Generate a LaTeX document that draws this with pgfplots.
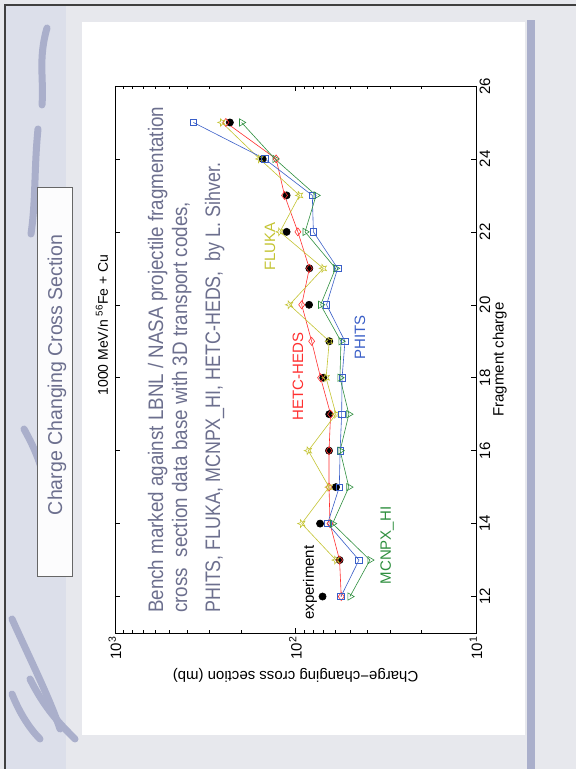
\documentclass[border=0pt]{standalone}
\usepackage{fontspec}
\setmainfont{Liberation Sans}
\usepackage{graphicx}
\usepackage{pgfplots}
\pgfplotsset{compat=1.18}
\definecolor{cred}{HTML}{FF3030}
\definecolor{cblue}{HTML}{3A5FC8}
\definecolor{cgreen}{HTML}{2F8F3F}
\definecolor{cyel}{HTML}{C4C432}
\definecolor{slidetxt}{HTML}{6C6F8E}
\definecolor{bgc}{HTML}{E7E8ED}
\definecolor{strip}{HTML}{DCDFEA}
\definecolor{swoosh}{HTML}{AAAFCB}
\pgfdeclareplotmark{fstar}{%
  \pgfpathmoveto{\pgfpointpolar{180}{\pgfplotmarksize}}%
  \pgfpathlineto{\pgfpointpolar{216}{0.42\pgfplotmarksize}}%
  \pgfpathlineto{\pgfpointpolar{252}{\pgfplotmarksize}}%
  \pgfpathlineto{\pgfpointpolar{288}{0.42\pgfplotmarksize}}%
  \pgfpathlineto{\pgfpointpolar{324}{\pgfplotmarksize}}%
  \pgfpathlineto{\pgfpointpolar{0}{0.42\pgfplotmarksize}}%
  \pgfpathlineto{\pgfpointpolar{36}{\pgfplotmarksize}}%
  \pgfpathlineto{\pgfpointpolar{72}{0.42\pgfplotmarksize}}%
  \pgfpathlineto{\pgfpointpolar{108}{\pgfplotmarksize}}%
  \pgfpathlineto{\pgfpointpolar{144}{0.42\pgfplotmarksize}}%
  \pgfpathclose\pgfusepathqstroke}
\newcommand{\lab}{\fontsize{15}{18}\selectfont}
\begin{document}
\begin{tikzpicture}
\useasboundingbox (0,0) rectangle (576pt,769pt);
% slide background
\fill[bgc] (0,0) rectangle (576pt,769pt);
\fill[strip] (5pt,0) rectangle (66pt,764pt);
\fill[swoosh] (527pt,0) rectangle (535pt,749pt);
\draw[black!75, line width=1.2pt] (5pt,0) -- (5pt,764pt) -- (576pt,764pt);
% swooshes
\begin{scope}[swoosh, line width=7pt, line cap=round]
\draw (47pt,741pt) .. controls (38pt,710pt) and (44pt,690pt) .. (42pt,664pt);
\draw (38pt,640pt) .. controls (34pt,600pt) and (36pt,570pt) .. (31pt,535pt);
\draw (24pt,340pt) .. controls (35pt,320pt) and (45pt,300pt) .. (52pt,250pt);
\draw (12pt,150pt) .. controls (30pt,110pt) and (50pt,70pt) .. (60pt,40pt);
\draw (30pt,90pt) .. controls (45pt,60pt) and (60pt,45pt) .. (75pt,30pt);
\draw (12pt,75pt) .. controls (20pt,55pt) and (30pt,40pt) .. (40pt,30pt);
\end{scope}
% white panel
\fill[white] (82pt,34pt) rectangle (525pt,747pt);
% title box
\draw[fill=white!92!strip, draw=black!60, line width=0.6pt] (37pt,193pt) rectangle (72pt,582pt);
\node[rotate=90, anchor=base, inner sep=0pt, text=slidetxt] at (62pt,394pt)
  {\fontsize{20}{24}\selectfont\resizebox{280pt}{\height}{Charge Changing Cross Section}};
% body text
\node[rotate=90, anchor=base west, inner sep=0pt, text=slidetxt] at (163pt,156pt)
  {\fontsize{21}{25}\selectfont\resizebox{506pt}{\height}{Bench marked against LBNL / NASA projectile fragmentation}};
\node[rotate=90, anchor=base west, inner sep=0pt, text=slidetxt] at (187pt,156pt)
  {\fontsize{21}{25}\selectfont\resizebox{411pt}{\height}{cross\ \ section data base with 3D transport codes,}};
\node[rotate=90, anchor=base west, inner sep=0pt, text=slidetxt] at (220pt,156pt)
  {\fontsize{21}{25}\selectfont\resizebox{450pt}{\height}{PHITS, FLUKA, MCNPX\_HI, HETC-HEDS,\ \ by L. Sihver.}};
\begin{axis}[
  at={(115pt,136pt)}, anchor=south west,
  scale only axis, width=361pt, height=547pt,
  xmode=log, x dir=reverse, xmin=10, xmax=1000,
  ymin=11, ymax=26,
  xtick={10,100,1000},
  xticklabels={10\textsuperscript{1},10\textsuperscript{2},10\textsuperscript{3}},
  minor xtick={20,30,40,50,60,70,80,90,200,300,400,500,600,700,800,900},
  ytick={12,14,...,26},
  yticklabel pos=right,
  tick align=inside,
  major tick length=5pt, minor tick length=3pt,
  tick style={black, line width=0.5pt},
  axis line style={line width=0.6pt},
  /pgf/number format/assume math mode=true,
  xticklabel style={rotate=90, anchor=east, font=\lab},
  yticklabel style={rotate=90, anchor=north, font=\lab},
  xlabel={Charge−changing cross section (mb)},
  xlabel style={at={(axis description cs:0.5,-0.077)}, anchor=center, rotate=180, font=\lab},
  ylabel={Fragment charge},
  ylabel style={at={(axis description cs:1.066,0.5)}, anchor=center, font=\lab},
  title={1000 MeV/n \textsuperscript{56}Fe + Cu},
  title style={at={(axis description cs:-0.036,0.552)}, anchor=center, rotate=90, font=\fontsize{14}{17}\selectfont},
  every axis plot/.append style={line width=0.6pt},
]
% experiment
\addplot[only marks, mark=*, mark size=3.6pt, black] coordinates {
 (70.8,12) (57,13) (73.1,14) (59.7,15) (65.2,16) (65.0,17) (70.2,18)
 (65.0,19) (84.1,20) (83.8,21) (112,22) (112,23) (152,24) (231,25)};
% HETC-HEDS
\addplot[cred, mark=diamond, mark size=4pt] coordinates {
 (55.8,12) (57,13) (64.4,14) (65.2,15) (65.2,16) (63.9,17) (72.6,18)
 (81.4,19) (92.4,20) (83.8,21) (97,22) (115,23) (128,24) (243,25)};
% FLUKA
\addplot[cyel, mark=fstar, mark size=4pt] coordinates {
 (59.7,13) (92.4,14) (65.2,15) (84.9,16) (59.7,17) (67.7,18)
 (65,19) (108,20) (70.2,21) (122,22) (95,23) (158,24) (256,25)};
% PHITS
\addplot[cblue, mark=square, mark size=3.2pt] coordinates {
 (56,12) (44.5,13) (66.4,14) (57.2,15) (56.6,16) (55.5,17) (55.2,18)
 (53.2,19) (67.3,20) (58.4,21) (79.6,22) (80.7,23) (148,24) (368,25)};
% MCNPX_HI
\addplot[cgreen, mark=triangle, mark size=4.2pt, mark options={rotate=-90}] coordinates {
 (49.9,12) (38.7,13) (62.3,14) (50.6,15) (56.6,16) (50.6,17) (56.7,18)
 (56,19) (72.6,20) (60,21) (88.5,22) (76.9,23) (130,24) (199,25)};
\node[rotate=90, font=\lab, text=black] at (axis cs:83.1,12.38) {experiment};
\node[rotate=90, font=\lab, text=cgreen] at (axis cs:31.1,13.40) {MCNPX\_HI};
\node[rotate=90, font=\lab, text=cred] at (axis cs:96.8,18.03) {HETC-HEDS};
\node[rotate=90, font=\lab, text=cblue] at (axis cs:43.9,19.10) {PHITS};
\node[rotate=90, font=\lab, text=cyel] at (axis cs:138.5,21.59) {FLUKA};
\end{axis}
\end{tikzpicture}
\end{document}
